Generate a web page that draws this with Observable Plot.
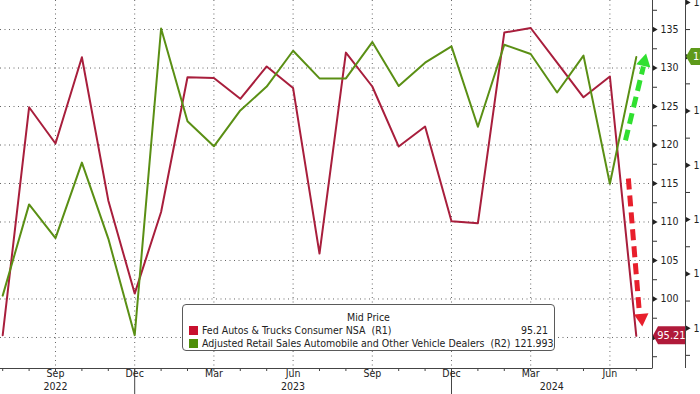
<!DOCTYPE html>
<html><head><meta charset="utf-8">
<script src="https://cdn.jsdelivr.net/npm/d3@7"></script>
<script src="https://cdn.jsdelivr.net/npm/@observablehq/plot@0.6"></script>
<style>
html,body{margin:0;padding:0;background:#fff;overflow:hidden;}
#wrap{position:relative;width:700px;height:394px;overflow:hidden;}
#legend{position:absolute;left:182px;top:304px;width:373px;height:47px;border:1px solid #5a5a5a;border-radius:4px;background:#fff;
 font-family:"DejaVu Sans Condensed","DejaVu Sans",sans-serif;font-stretch:condensed;font-size:10.5px;color:#222;padding-top:6px;box-sizing:border-box;}
#legend .title{text-align:center;line-height:13px;}
#legend .row{display:flex;align-items:center;line-height:13px;height:13px;padding:0 6px 0 6px;}
#legend .sw{width:9px;height:9px;margin-right:4px;flex:none;}
#legend .name{flex:1;white-space:pre;}
#legend .val{white-space:pre;text-align:right;margin-left:4px;}
</style></head><body><div id="wrap"></div>
<script>
// ---- data ----
const months = ["2022-07","2022-08","2022-09","2022-10","2022-11","2022-12",
  "2023-01","2023-02","2023-03","2023-04","2023-05","2023-06","2023-07","2023-08","2023-09","2023-10","2023-11","2023-12",
  "2024-01","2024-02","2024-03","2024-04","2024-05","2024-06","2024-07"];
const autosR1 = [95.3,124.9,120.2,131.4,112.8,100.7,111.3,128.8,128.7,126.0,130.2,127.4,105.9,132.0,127.6,119.8,122.4,110.1,109.85,134.6,135.2,130.7,126.2,128.9,95.21];
const retailR2 = [117.6,119.28,118.66,120.05,118.65,116.87,122.52,120.81,120.35,121.01,121.45,122.11,121.6,121.6,122.27,121.46,121.89,122.19,120.71,122.22,122.05,121.34,122.02,119.66,121.993];
const seriesNames = ["Fed Autos & Trucks Consumer NSA  (R1)", "Adjusted Retail Sales Automobile and Other Vehicle Dealers  (R2)"];
const legendTitle = "Mid Price";
const r1Ticks = [95,100,105,110,115,120,125,130,135];
const r1Minor = [92.5,97.5,102.5,107.5,112.5,117.5,122.5,127.5,132.5,137.5];
const r2Ticks = [117,118,119,120,121,122,123];
const r2Minor = [116.5,117.5,118.5,119.5,120.5,121.5,122.5];
const quarterMonths = ["2022-09","2022-12","2023-03","2023-06","2023-09","2023-12","2024-03","2024-06"];
const monthNames = {"03":"Mar","06":"Jun","09":"Sep","12":"Dec"};
const yearBreaks = ["2022-12","2023-12"];
const yearLabels = [{year:"2022", at:2},{year:"2023", at:11},{year:"2024", at:20.8}];
// annotation arrows (in month-index / R1 units)
const arrowsAnn = [
  {x1:23.70,y1:115.65,x2:24.12,y2:98.12,hx:24.2,hy:97.51,rot:175},
  {x1:23.59,y1:120.59,x2:24.27,y2:130.2,hx:24.30,hy:130.81,rot:12.8}
];

// ---- scales ----
const xDomain = [-0.0833, 24.614];
const r1Domain = [90.97, 138.77];
const r2Domain = [116.258, 123.035];
const conv = d3.scaleLinear(r2Domain, r1Domain);
const idx = m => months.indexOf(m);

const RED = "#a81e3c", GREEN = "#5a8f14";
const data = months.map((m,i)=>({i, r1:autosR1[i], r2:conv(retailR2[i])}));

const font = "'DejaVu Sans Condensed', 'DejaVu Sans', sans-serif";
const plot = Plot.plot({
  width:700, height:394, marginLeft:0, marginRight:48, marginTop:0, marginBottom:26,
  style:{fontFamily:font, fontStretch:"condensed", fontSize:"10.5px", color:"#222", background:"#fff"},
  x:{type:"linear", domain:xDomain},
  y:{domain:r1Domain},
  marks:[
    Plot.gridY(r1Ticks,{stroke:"#666",strokeOpacity:1,strokeDasharray:"1,3.5"}),
    Plot.gridX(quarterMonths.map(idx),{stroke:"#666",strokeOpacity:1,strokeDasharray:"1,3.5"}),
    Plot.axisX(months.map((m,i)=>i),{tickSize:3,tickFormat:()=>"",stroke:"#444"}),
    Plot.axisX(yearBreaks.map(idx),{tickSize:26,tickFormat:()=>"",stroke:"#444"}),
    Plot.axisX(quarterMonths.map(idx),{tickSize:0,tickPadding:1,tickFormat:i=>monthNames[months[i].slice(5)],fontSize:10.5}),
    Plot.text(yearLabels,{x:"at",text:"year",frameAnchor:"bottom",dy:21,fontSize:10.5,fill:"#222"}),
    Plot.axisY(r1Minor,{anchor:"right",tickSize:4,tickFormat:()=>"",stroke:"#333"}),
    Plot.axisY(r1Ticks,{anchor:"right",tickSize:0,tickPadding:8,fontSize:10.5}),
    Plot.dot(r1Ticks,{y:d=>d,frameAnchor:"right",dx:1.7,symbol:"triangle",rotate:90,r:2.2,fill:"#222",stroke:null}),
    Plot.axisY(r2Minor.map(conv),{anchor:"right",dx:33,tickSize:4,tickFormat:()=>"",stroke:"#333"}),
    Plot.axisY(r2Ticks.map(conv),{anchor:"right",dx:33,tickSize:0,tickPadding:8,fontSize:10.5,tickFormat:d=>String(Math.round(conv.invert(d)))}),
    Plot.dot(r2Ticks.map(conv),{y:d=>d,frameAnchor:"right",dx:34.7,symbol:"triangle",rotate:90,r:2.2,fill:"#222",stroke:null}),
    Plot.line(data,{x:"i",y:"r1",stroke:RED,strokeWidth:2}),
    Plot.line(data,{x:"i",y:"r2",stroke:GREEN,strokeWidth:2}),
    Plot.link([arrowsAnn[0]],{x1:"x1",y1:"y1",x2:"x2",y2:"y2",stroke:"#e81f2c",strokeWidth:5,strokeDasharray:"11,6"}),
    Plot.dot([arrowsAnn[0]],{x:"hx",y:"hy",symbol:"triangle",rotate:"rot",r:5.4,fill:"#e81f2c",stroke:null}),
    Plot.link([arrowsAnn[1]],{x1:"x1",y1:"y1",x2:"x2",y2:"y2",stroke:"#30e030",strokeWidth:5,strokeDasharray:"11,6"}),
    Plot.dot([arrowsAnn[1]],{x:"hx",y:"hy",symbol:"triangle",rotate:"rot",r:5.4,fill:"#30e030",stroke:null})
  ]
});
document.getElementById("wrap").appendChild(plot);

// axis lines and value tags
const svg = d3.select(plot);
const xs = plot.scale("x"), ys = plot.scale("y");
const fx0 = xs.range[0], fx1 = xs.range[1];
const fy0 = ys.range[0], fy1 = ys.range[1];
const g = svg.append("g");
g.append("line").attr("x1",fx0).attr("x2",fx1).attr("y1",fy0+0.5).attr("y2",fy0+0.5).attr("stroke","#444");
g.append("line").attr("x1",fx1+0.5).attr("x2",fx1+0.5).attr("y1",fy1).attr("y2",fy0+0.5).attr("stroke","#444");
g.append("line").attr("x1",fx1+33.5).attr("x2",fx1+33.5).attr("y1",fy1).attr("y2",fy0).attr("stroke","#444");
function tag(x, yc, w, h, fill, text, anchor){
  const p = `M${x},${yc} L${x+5},${yc-h/2} L${x+w},${yc-h/2} L${x+w},${yc+h/2} L${x+5},${yc+h/2} Z`;
  g.append("path").attr("d",p).attr("fill",fill);
  g.append("text").attr("x", anchor==="middle" ? x+5+(w-5)/2 : x+7).attr("y",yc).attr("dy","0.35em")
    .attr("text-anchor",anchor).attr("fill","#fff").attr("font-size","11px").attr("font-family",font)
    .style("font-stretch","condensed").text(text);
}
const lastR1 = autosR1[autosR1.length-1], lastR2 = retailR2[retailR2.length-1];
tag(fx1+1, ys.apply(lastR1), 32, 18, "#b01a3a", String(lastR1), "middle");
tag(fx1+34, ys.apply(conv(lastR2)), 40, 17, "#5e9a1a", String(lastR2), "start");

// legend
const leg = document.createElement("div"); leg.id="legend";
const cols = ["#c8102e","#4f8f0a"], vals=[String(lastR1), String(lastR2)];
leg.innerHTML = `<div class="title">${legendTitle}</div>` + seriesNames.map((n,k)=>
  `<div class="row"><span class="sw" style="background:${cols[k]}"></span><span class="name"></span><span class="val"></span></div>`).join("");
leg.querySelectorAll(".name").forEach((e,k)=>e.textContent=seriesNames[k]);
leg.querySelectorAll(".val").forEach((e,k)=>e.textContent=vals[k]);
document.getElementById("wrap").appendChild(leg);
</script></body></html>
